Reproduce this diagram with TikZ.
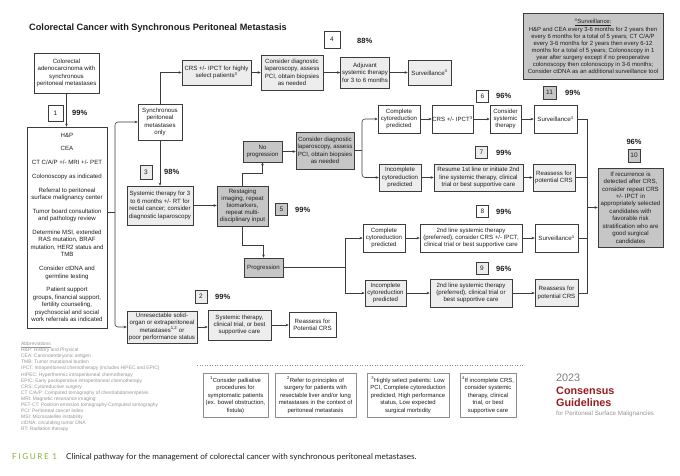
\documentclass[tikz,border=0pt]{standalone}
\usepackage{fontspec}
\setmainfont{Liberation Sans}
\newfontfamily\capfont{Lato}
\usetikzlibrary{arrows.meta}
\definecolor{lf}{RGB}{237,237,237}
\definecolor{df}{RGB}{198,198,198}
\definecolor{bd}{RGB}{60,60,60}
\definecolor{tx}{RGB}{30,30,30}
\definecolor{abbr}{RGB}{150,150,150}
\definecolor{logored}{RGB}{150,28,32}
\definecolor{figgreen}{RGB}{140,175,60}
\definecolor{fnbd}{RGB}{140,140,140}
\begin{document}
\begin{tikzpicture}[x=1pt,y=-1pt,
 bx/.style={draw=bd, line width=0.6pt, fill=white, align=center, inner sep=0pt, text=tx, font=\fontsize{6.1}{7.4}\selectfont},
 lfb/.style={bx, fill=lf},
 dfb/.style={bx, fill=df},
 sz/.style 2 args={minimum width=#1, minimum height=#2},
 num/.style={bx, minimum width=12pt, minimum height=12pt, font=\fontsize{6.5}{7}\selectfont},
 pct/.style={font=\bfseries\fontsize{7.5}{8}\selectfont, text=tx, inner sep=0pt, anchor=west},
 fnb/.style={bx, draw=fnbd, line width=0.5pt, font=\fontsize{5.9}{7.5}\selectfont, minimum height=44pt},
 ln/.style={draw=bd, line width=0.6pt},
 arr/.style={ln, -{Stealth[length=3pt,width=2.6pt]}},
]
\fill[white] (0,0) rectangle (680,475);
\useasboundingbox (0,0) rectangle (680,475);

% title
\node[anchor=west, font=\bfseries\fontsize{9.2}{10}\selectfont, inner sep=0pt, text=tx] (title) at (29,28) {Colorectal Cancer with Synchronous Peritoneal Metastasis};

% left column
\node[bx, sz={65pt}{40pt}] (A) at (66.5,73) {Colorectal\\adenocarcinoma with\\synchronous\\peritoneal metastases};
\node[num, minimum width=15pt, minimum height=16pt] (n1) at (55.5,113) {1};
\node[pct] (p1) at (72,113) {99\%};
\node[bx, sz={80pt}{201pt}, font=\fontsize{6.1}{7.5}\selectfont] (hp) at (67,227.5) {H\&P\\[6.2pt]CEA\\[6.2pt]CT C/A/P +/- MRI +/- PET\\[6.2pt]Colonoscopy as indicated\\[6.2pt]Referral to peritoneal\\surface malignancy center\\[6.2pt]Tumor board consultation\\and pathology review\\[6.2pt]Determine MSI, extended\\RAS mutation, BRAF\\mutation, HER2 status and\\TMB\\[6.2pt]Consider ctDNA and\\germline testing\\[6.2pt]Patient support\\groups, financial support,\\fertility counseling,\\psychosocial and social\\work referrals as indicated};

% top row
\node[bx, sz={44pt}{36pt}] (sync) at (160,122) {Synchronous\\peritoneal\\metastases\\only};
\node[lfb, sz={69pt}{25pt}] (crs1) at (216.5,72.5) {CRS +/- IPCT for highly\\select patients\textsuperscript{3}};
\node[lfb, sz={62pt}{35pt}] (diag1) at (292,72.5) {Consider diagnostic\\laparoscopy, assess\\PCI, obtain biopsies\\as needed};
\node[lfb, sz={49pt}{31pt}] (adj) at (365,72.5) {Adjuvant\\systemic therapy\\for 3 to 6 months};
\node[lfb, sz={43pt}{25pt}] (surv1) at (429.5,72.5) {Surveillance\textsuperscript{4}};
\node[num, minimum width=16pt, minimum height=17pt] (n4) at (332,39.5) {4};
\node[pct] (p4) at (357,41) {88\%};

\node[dfb, sz={140pt}{66pt}, font=\fontsize{5.95}{7.05}\selectfont] (survbig) at (593,46) {\underline{\textsuperscript{4}Surveillance:}\\H\&P and CEA every 3-6 months for 2 years then\\every 6 months for a total of 5 years; CT C/A/P\\every 3-6 months for 2 years then every 6-12\\months for a total of 5 years; Colonoscopy in 1\\year after surgery except if no preoperative\\colonoscopy then colonoscopy in 3-6 months;\\Consider ctDNA as an additional surveillance tool};
\node[num, fill=df, minimum width=13pt, minimum height=13pt] (n11) at (549.5,92.5) {11};
\node[pct] (p11) at (565,92.5) {99\%};

% middle
\node[lfb, sz={66pt}{39pt}] (sys36) at (160,205.5) {Systemic therapy for 3\\to 6 months +/- RT for\\rectal cancer; consider\\diagnostic laparoscopy};
\node[num, fill=lf, minimum height=14pt] (n3) at (146,172) {3};
\node[pct] (p3) at (164,172) {98\%};
\node[dfb, sz={51pt}{40pt}, font=\fontsize{6.1}{7.0}\selectfont] (rest) at (242.5,206) {Restaging\\imaging, repeat\\biomarkers,\\repeat multi-\\disciplinary input};
\node[num, fill=df] (n5) at (281.5,209.5) {5};
\node[pct] (p5) at (295,209.5) {99\%};
\node[dfb, sz={39pt}{21pt}] (noprog) at (262.5,151.5) {No\\progression};
\node[dfb, sz={39pt}{19pt}] (prog) at (263.5,267.5) {Progression};
\node[dfb, sz={58pt}{37pt}] (diag2) at (325,150.5) {Consider diagnostic\\laparoscopy, assess\\PCI, obtain biopsies\\as needed};

\node[bx, sz={42pt}{28pt}] (comp1) at (399,119) {Complete\\cytoreduction\\predicted};
\node[bx, sz={41pt}{28pt}] (crs2) at (452.5,119) {CRS +/- IPCT\textsuperscript{3}};
\node[bx, sz={31pt}{28pt}] (consys) at (505.5,119) {Consider\\systemic\\therapy};
\node[bx, sz={43pt}{28pt}] (surv2) at (555.5,119) {Surveillance\textsuperscript{4}};
\node[num] (n6) at (482.5,96) {6};
\node[pct] (p6) at (496,96) {96\%};

\node[lfb, sz={42pt}{27pt}] (incomp1) at (400,177.5) {Incomplete\\cytoreduction\\predicted};
\node[lfb, sz={89pt}{27pt}] (resume) at (478.5,177.5) {Resume 1st line or initiate 2nd\\line systemic therapy, clinical\\trial or best supportive care};
\node[lfb, sz={42pt}{27pt}] (reas1) at (554,177.5) {Reassess for\\potential CRS};
\node[num, fill=lf] (n7) at (481.5,152.5) {7};
\node[pct] (p7) at (496,153) {99\%};

\node[num, fill=df, minimum height=13pt] (n10) at (634,155.5) {10};
\node[pct, anchor=center] (p10) at (634,142) {96\%};
\node[dfb, sz={65pt}{79pt}, font=\fontsize{6.1}{7.44}\selectfont] (rec) at (630.5,207.5) {If recurrence is\\detected after CRS,\\consider repeat CRS\\+/- IPCT in\\appropriately selected\\candidates with\\favorable risk\\stratification who are\\good surgical\\candidates};

% progression branch
\node[num] (n8) at (482.5,211.5) {8};
\node[pct] (p8) at (496,212) {99\%};
\node[bx, sz={42pt}{28pt}] (comp2) at (384,238) {Complete\\cytoreduction\\predicted};
\node[bx, sz={102pt}{28pt}] (second2) at (471,238) {2nd line systemic therapy\\(preferred), consider CRS +/- IPCT,\\clinical trial or best supportive care};
\node[bx, sz={43pt}{28pt}] (surv3) at (556.5,238) {Surveillance\textsuperscript{4}};
\node[num, fill=lf] (n9) at (482,268.5) {9};
\node[pct] (p9) at (496,269) {96\%};
\node[lfb, sz={41pt}{26pt}] (incomp2) at (385.5,293) {Incomplete\\cytoreduction\\predicted};
\node[lfb, sz={82pt}{28pt}] (second3) at (471,293) {2nd line systemic therapy\\(preferred), clinical trial or\\best supportive care};
\node[lfb, sz={43pt}{27pt}] (reas2) at (556.5,293) {Reassess for\\potential CRS};

% unresectable branch
\node[num, fill=lf, minimum height=13pt] (n2) at (201,296.5) {2};
\node[pct] (p2) at (215,296.5) {99\%};
\node[lfb, sz={70pt}{32pt}] (unres) at (162,327) {Unresectable solid-\\organ or extraperitoneal\\metastases\textsuperscript{1,2} or\\poor performance status};
\node[lfb, sz={63pt}{30pt}] (systct) at (239.5,325) {Systemic therapy,\\clinical trial, or best\\supportive care};
\node[bx, sz={47pt}{25pt}] (reasP) at (312.5,325) {Reassess for\\Potential CRS};

% connectors
\draw[arr] (A.south) -- (A.south |- hp.north);
\coordinate (j1) at (115,212);
\draw[ln] (hp.east |- j1) -- (j1);
\draw[arr, rounded corners=3pt] (j1) |- (sync.west);
\draw[arr, rounded corners=3pt] (j1) |- (unres.west);
\draw[arr] (sync.north) |- (crs1.west);
\draw[arr] (crs1.east) -- (diag1.west);
\draw[arr] (diag1.east) -- (adj.west);
\draw[arr] (adj.east) -- (surv1.west);
\draw[arr] (sync.south) -- (sys36.north);
\draw[arr] (sys36.east) -- (sys36.east -| rest.west);
\draw[arr] (rest.north) -- ++(0,-12) -| (noprog.south);
\draw[arr] (rest.south) -- ++(0,19) -| (prog.north);
\draw[arr] (noprog.east) -- (noprog.east -| diag2.west);
\coordinate (j2) at (362,150.5);
\draw[ln] (diag2.east) -- (j2);
\draw[arr, rounded corners=3pt] (j2) |- (comp1.west);
\draw[arr, rounded corners=3pt] (j2) |- (incomp1.west);
\draw[arr] (comp1.east) -- (crs2.west);
\draw[arr] (crs2.east) -- (consys.west);
\draw[arr] (consys.east) -- (surv2.west);
\draw[arr] (incomp1.east) -- (resume.west);
\draw[arr] (resume.east) -- (reas1.west);
\coordinate (v) at (587,0);
\draw[ln] (surv2.east) -| (v |- reas2.east) -- (reas2.east);
\draw[ln] (reas1.east) -- (v |- reas1.east);
\draw[ln] (surv3.east) -- (v |- surv3.east);
\draw[arr] (v |- rec.west) -- (rec.west);
\coordinate (j3) at (345,267.5);
\draw[ln] (prog.east) -- (j3);
\draw[arr] (j3) |- (comp2.west);
\draw[arr] (j3) |- (incomp2.west);
\draw[arr] (comp2.east) -- (second2.west);
\draw[arr] (second2.east) -- (surv3.west);
\draw[arr] (incomp2.east) -- (second3.west);
\draw[arr] (second3.east) -- (reas2.west);
\draw[arr] (unres.east) -- (unres.east -| systct.west);
\draw[arr] (systct.east) -- (reasP.west);

% dotted rule and footnotes
\draw[fnbd, dotted, line width=0.5pt] (197,365) -- (523,365);
\node[fnb, minimum width=65pt] (fn1) at (235.5,395) {\textsuperscript{1}Consider palliative\\procedures for\\symptomatic patients\\(ex. bowel obstruction,\\fistula)};
\node[fnb, minimum width=81pt] (fn2) at (315.5,395) {\textsuperscript{2}Refer to principles of\\surgery for patients with\\resectable liver and/or lung\\metastases in the context of\\peritoneal metastasis};
\node[fnb, minimum width=82pt] (fn3) at (408,395) {\textsuperscript{3}Highly select patients: Low\\PCI, Complete cytoreduction\\predicted, High performance\\status, Low expected\\surgical morbidity};
\node[fnb, minimum width=56pt] (fn4) at (488,395) {\textsuperscript{4}If incomplete CRS,\\consider systemic\\therapy, clinical\\trial, or best\\supportive care};

% abbreviations
\node[anchor=north west, align=left, inner sep=0pt, text=abbr, font=\fontsize{4.9}{6.05}\selectfont] (abbrev) at (21,342) {\underline{Abbreviations}\\H\&P: History and Physical\\CEA: Carcinoembryonic antigen\\TMB: Tumor mutational burden\\IPCT: Intraperitoneal chemotherapy (includes HIPEC and EPIC)\\HIPEC: Hyperthermic intraperitoneal chemotherapy\\EPIC: Early postoperative intraperitoneal chemotherapy\\CRS: Cytoreductive surgery\\CT C/A/P: Computed tomography of chest/abdomen/pelvis\\MRI: Magnetic resonance imaging\\PET-CT: Positron emission tomography-Computed tomography\\PCI: Peritoneal cancer index\\MSI: Microsatellite instability\\ctDNA: circulating tumor DNA\\RT: Radiation therapy};

% logo
\node[anchor=west, inner sep=0pt, text={rgb,255:red,125;green,125;blue,125}, font=\fontsize{10.8}{12}\selectfont] (yr) at (556,378) {2023};
\node[anchor=west, inner sep=0pt, text=logored, font=\bfseries\fontsize{10.8}{12}\selectfont] (cons) at (556,391) {Consensus};
\node[anchor=west, inner sep=0pt, text=logored, font=\bfseries\fontsize{10.8}{12}\selectfont] (guid) at (556,403) {Guidelines};
\node[anchor=west, inner sep=0pt, text=abbr, font=\fontsize{6.2}{7}\selectfont] (psm) at (556,414) {for Peritoneal Surface Malignancies};

% caption
\node[anchor=west, inner sep=0pt, text=figgreen, font=\capfont\fontsize{8.1}{9}\selectfont\addfontfeatures{LetterSpace=20}] (fig) at (12,457) {FIGURE 1};
\node[anchor=west, inner sep=0pt, text=tx, font=\capfont\fontsize{8.1}{9}\selectfont] (cap) at (66,457) {Clinical pathway for the management of colorectal cancer with synchronous peritoneal metastases.};
\end{tikzpicture}
\end{document}
